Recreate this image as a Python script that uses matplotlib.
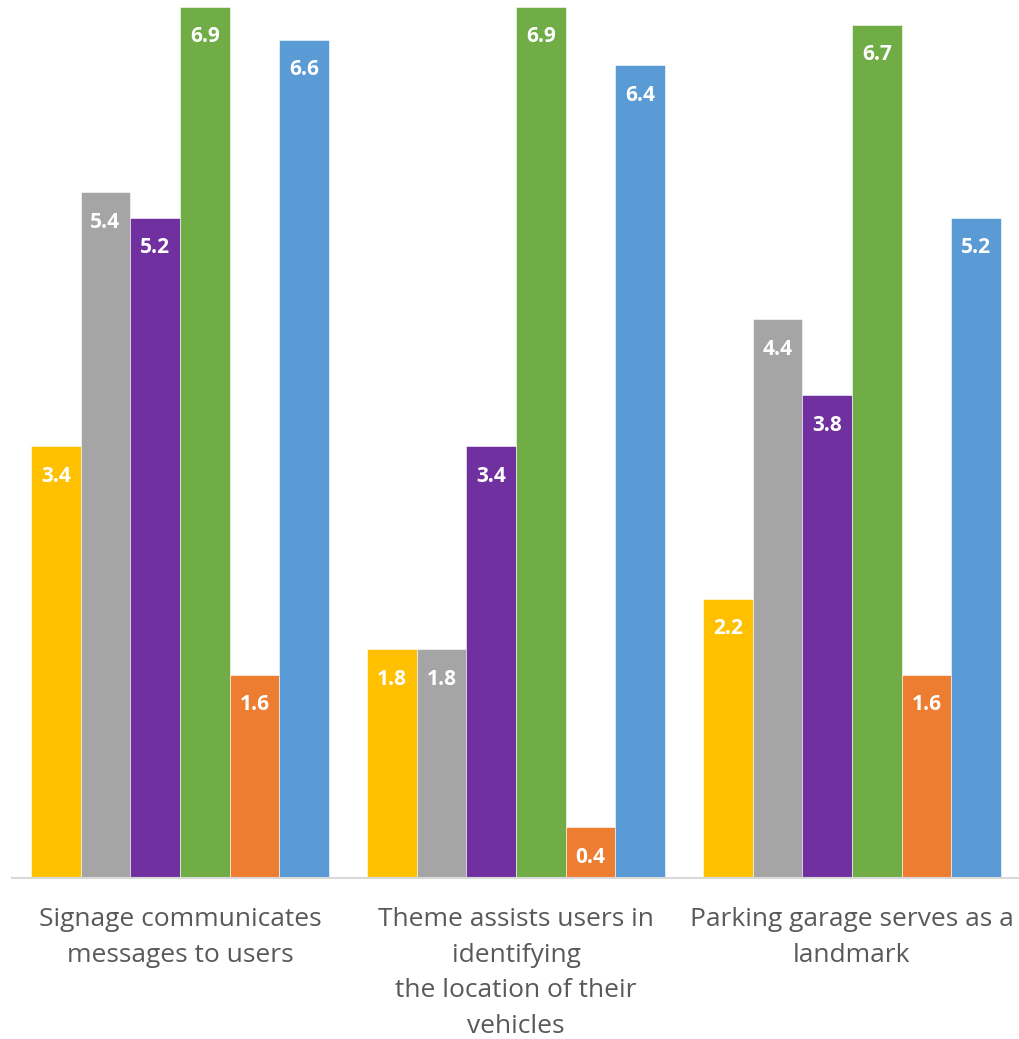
import matplotlib
matplotlib.use("Agg")
import matplotlib.pyplot as plt
import numpy as np

categories = ["Signage communicates\nmessages to users",
              "Theme assists users in\nidentifying\nthe location of their\nvehicles",
              "Parking garage serves as a\nlandmark"]
series_yellow = [3.4, 1.8, 2.2]
series_gray = [5.4, 1.8, 4.4]
series_purple = [5.2, 3.4, 3.8]
series_green = [6.86, 6.86, 6.72]
series_orange = [1.6, 0.4, 1.6]
series_blue = [6.6, 6.4, 5.2]

colors = ["#FFC000", "#A5A5A5", "#7030A0", "#70AD47", "#ED7D31", "#5B9BD5"]
series = [series_yellow, series_gray, series_purple, series_green, series_orange, series_blue]

plt.rcParams["font.family"] = ["Open Sans", "DejaVu Sans"]

fig = plt.figure(figsize=(10.2, 10.39), dpi=100)
ax = fig.add_axes([12 / 1020, (1039 - 878) / 1039, 1008 / 1020, 878 / 1039])

x = np.arange(len(categories))
w = 298 / 336 / 6
for i, (vals, col) in enumerate(zip(series, colors)):
    pos = x - 3 * w + (i + 0.5) * w
    ax.bar(pos, vals, width=w, color=col, edgecolor="white", linewidth=0.4)
    for px, v in zip(pos, vals):
        ax.annotate(f"{v:.1f}", (px, v), xytext=(0, -30), textcoords="offset pixels",
                    ha="center", va="center", color="white", fontsize=15,
                    fontweight="bold")

ax.set_xlim(-0.5, 2.5)
ax.set_ylim(0, 878 / 127)
ax.set_yticks([])
ax.set_xticks(x)
ax.set_xticklabels(categories, fontsize=19, color="#595959", linespacing=1.56)
ax.tick_params(axis="x", length=0, pad=21)
for s in ["top", "right", "left"]:
    ax.spines[s].set_visible(False)
ax.spines["bottom"].set_color("#D9D9D9")
ax.spines["bottom"].set_linewidth(1.5)

fig.savefig("out.png", dpi=100)
